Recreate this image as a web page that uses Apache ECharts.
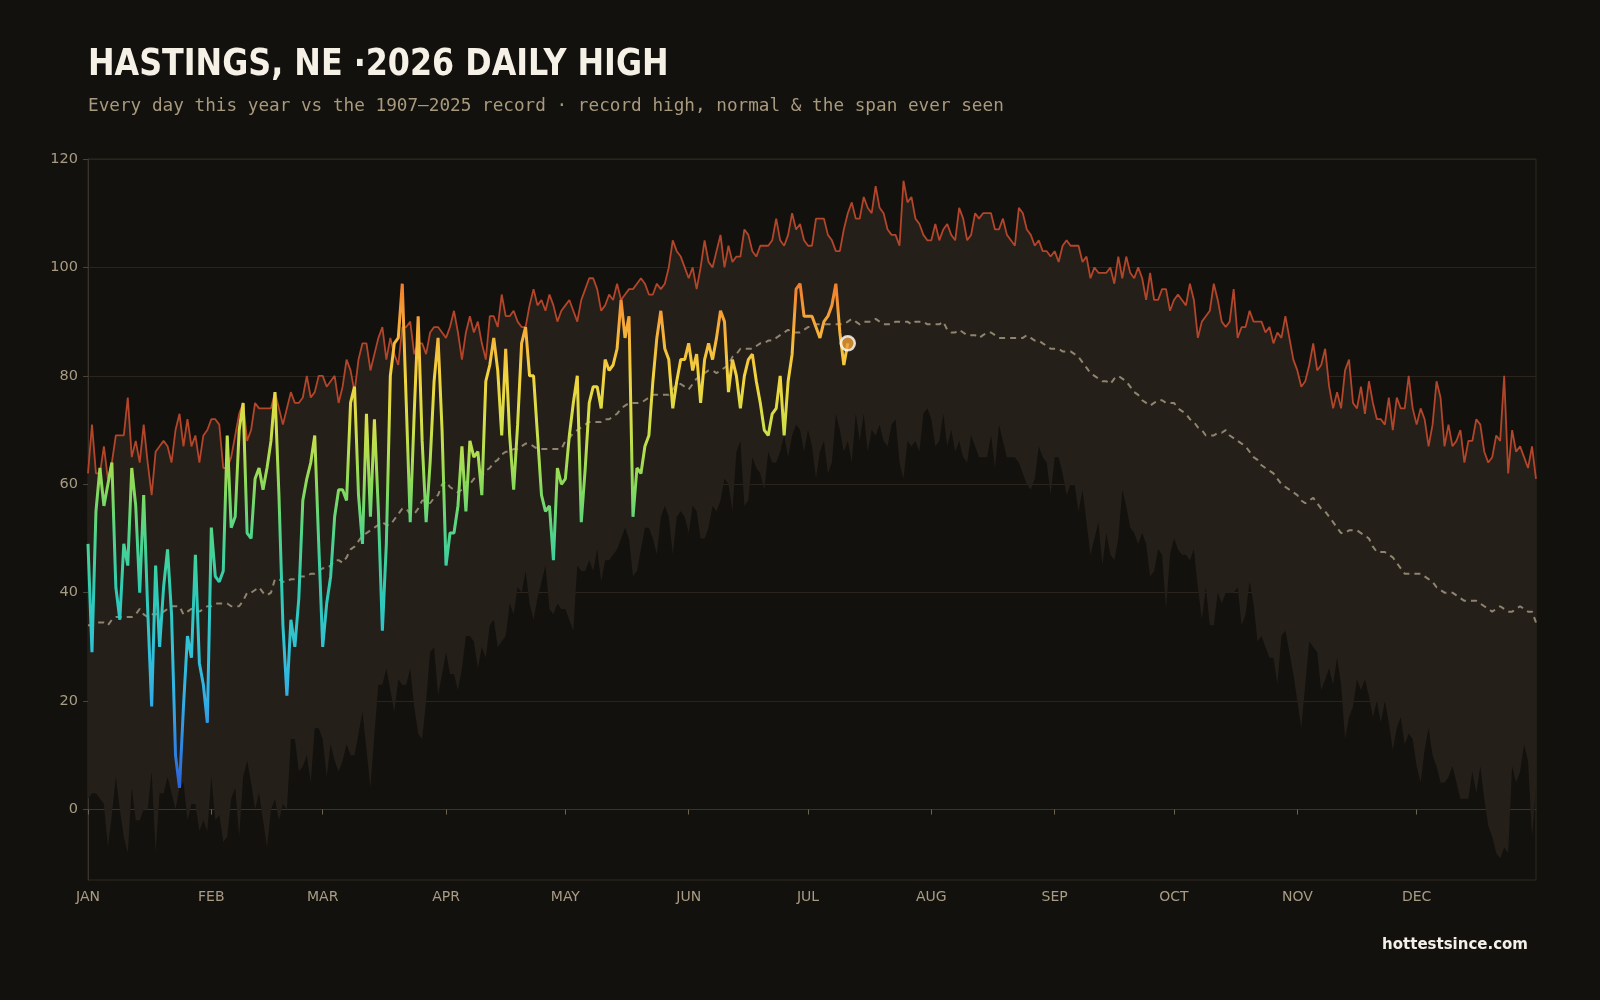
<!DOCTYPE html>
<html>
<head>
<meta charset="utf-8">
<title>Hastings daily high</title>
<script src="https://cdn.jsdelivr.net/npm/echarts@6/dist/echarts.min.js"></script>
<style>
  html, body { margin: 0; padding: 0; background: #13110d; }
  #chart { width: 1600px; height: 1000px; }
</style>
</head>
<body>
<div id="chart"></div>
<script>
// month names / lengths, used to build the 365 day categories
var monthNames = ['JAN', 'FEB', 'MAR', 'APR', 'MAY', 'JUN', 'JUL', 'AUG', 'SEP', 'OCT', 'NOV', 'DEC']
var monthDays = [31, 28, 31, 30, 31, 30, 31, 31, 30, 31, 30, 31]
var yTicks = [0, 20, 40, 60, 80, 100, 120]

// 2026 daily highs so far (Jan 1 -> Jul 11)
var thisYear = [
  49, 29, 55, 63, 56, 60, 64, 41, 35, 49,
  45, 63, 56, 40, 58, 37, 19, 45, 30, 41,
  48, 36, 10, 4, 19, 32, 28, 47, 27, 23,
  16, 52, 43, 42, 44, 69, 52, 54, 70, 75,
  51, 50, 61, 63, 59, 63, 68, 77, 58, 34,
  21, 35, 30, 39, 57, 61, 64, 69, 49, 30,
  38, 43, 54, 59, 59, 57, 75, 78, 58, 49,
  73, 54, 72, 55, 33, 49, 80, 86, 87, 97,
  75, 53, 73, 91, 68, 53, 64, 79, 87, 70,
  45, 51, 51, 56, 67, 55, 68, 65, 66, 58,
  79, 82, 87, 81, 69, 85, 69, 59, 71, 86,
  89, 80, 80, 69, 58, 55, 56, 46, 63, 60,
  61, 69, 75, 80, 53, 63, 75, 78, 78, 74,
  83, 81, 82, 85, 94, 87, 91, 54, 63, 62,
  67, 69, 79, 87, 92, 85, 83, 74, 79, 83,
  83, 86, 81, 84, 75, 83, 86, 83, 87, 92,
  90, 77, 83, 80, 74, 80, 83, 84, 79, 75,
  70, 69, 73, 74, 80, 69, 79, 84, 96, 97,
  91, 91, 91, 89, 87, 90, 91, 93, 97, 88,
  82, 86
]

// record high 1907-2025, one value per day
var recordHigh = [
  62, 71, 62, 62, 67, 61, 64, 69, 69, 69,
  76, 65, 68, 64, 71, 64, 58, 66, 67, 68,
  67, 64, 70, 73, 67, 72, 67, 69, 64, 69,
  70, 72, 72, 71, 63, 63, 65, 69, 73, 75,
  68, 70, 75, 74, 74, 74, 74, 77, 74, 71,
  74, 77, 75, 75, 76, 80, 76, 77, 80, 80,
  78, 79, 80, 75, 78, 83, 81, 77, 83, 86,
  86, 81, 84, 87, 89, 83, 87, 84, 82, 89,
  89, 90, 84, 86, 86, 84, 88, 89, 89, 88,
  87, 89, 92, 88, 83, 88, 91, 88, 90, 86,
  83, 91, 91, 89, 95, 91, 91, 92, 90, 89,
  89, 93, 96, 93, 94, 92, 95, 93, 90, 92,
  93, 94, 92, 90, 94, 96, 98, 98, 96, 92,
  93, 95, 94, 97, 94, 95, 96, 96, 97, 98,
  97, 95, 95, 97, 96, 97, 100, 105, 103, 102,
  100, 98, 100, 96, 100, 105, 101, 100, 103, 106,
  100, 104, 101, 102, 102, 107, 106, 103, 102, 104,
  104, 104, 105, 109, 105, 104, 106, 110, 107, 108,
  105, 104, 104, 109, 109, 109, 106, 105, 103, 103,
  107, 110, 112, 109, 109, 113, 111, 110, 115, 111,
  110, 107, 106, 106, 104, 116, 112, 113, 109, 108,
  106, 105, 105, 108, 105, 107, 108, 106, 105, 111,
  109, 105, 106, 110, 109, 110, 110, 110, 107, 107,
  109, 106, 105, 104, 111, 110, 107, 106, 104, 105,
  103, 103, 102, 103, 101, 104, 105, 104, 104, 104,
  101, 102, 98, 100, 99, 99, 99, 100, 97, 102,
  98, 102, 99, 98, 100, 98, 94, 99, 94, 94,
  96, 96, 92, 94, 95, 94, 93, 97, 94, 87,
  90, 91, 92, 97, 94, 90, 89, 90, 96, 87,
  89, 89, 92, 90, 90, 90, 88, 89, 86, 88,
  87, 91, 87, 83, 81, 78, 79, 82, 86, 81,
  82, 85, 78, 74, 77, 74, 81, 83, 75, 74,
  78, 73, 79, 75, 72, 72, 71, 76, 70, 76,
  74, 74, 80, 74, 71, 74, 72, 67, 71, 79,
  76, 67, 71, 67, 68, 70, 64, 68, 68, 72,
  71, 66, 64, 65, 69, 68, 80, 62, 70, 66,
  67, 65, 63, 67, 61
]

// record low of the daily high, one value per day
var recordLow = [
  2, 3, 3, 2, 1, -7, -1, 6, 0, -5,
  -8, 4, -2, -2, 0, 0, 7, -8, 3, 3,
  6, 3, 0, 4, 5, -2, 1, 1, -4, -2,
  -4, 6, -2, -1, -6, -5, 2, 4, -5, 6,
  9, 5, 0, 3, -2, -7, 0, 2, -2, 1,
  0, 13, 13, 7, 8, 10, 5, 15, 15, 13,
  6, 12, 9, 7, 9, 12, 10, 10, 14, 18,
  11, 4, 14, 23, 23, 26, 22, 18, 24, 23,
  23, 26, 19, 14, 13, 20, 29, 30, 21, 25,
  29, 25, 25, 22, 26, 32, 32, 31, 26, 30,
  28, 34, 35, 30, 31, 32, 38, 36, 41, 40,
  44, 38, 35, 39, 42, 45, 37, 36, 38, 37,
  37, 35, 33, 45, 44, 44, 46, 44, 48, 42,
  46, 46, 47, 48, 50, 52, 50, 43, 44, 48,
  52, 52, 50, 47, 54, 56, 54, 47, 54, 55,
  54, 51, 56, 55, 50, 50, 52, 56, 55, 57,
  61, 60, 55, 66, 68, 56, 57, 65, 63, 62,
  59, 66, 64, 64, 66, 69, 65, 69, 71, 70,
  66, 70, 67, 61, 66, 68, 62, 64, 73, 70,
  66, 68, 64, 73, 68, 73, 66, 70, 69, 71,
  68, 67, 71, 72, 64, 61, 68, 67, 68, 66,
  73, 74, 72, 67, 68, 73, 67, 70, 66, 68,
  65, 64, 69, 67, 65, 65, 65, 69, 63, 71,
  68, 65, 65, 65, 64, 62, 60, 59, 61, 67,
  65, 64, 58, 65, 65, 62, 58, 60, 60, 55,
  59, 53, 47, 50, 53, 45, 51, 47, 46, 50,
  59, 56, 52, 51, 49, 51, 49, 43, 44, 48,
  47, 37, 47, 50, 48, 47, 47, 46, 48, 41,
  35, 41, 34, 34, 40, 38, 40, 40, 40, 41,
  34, 36, 42, 38, 31, 32, 30, 28, 28, 23,
  32, 33, 29, 25, 20, 15, 23, 31, 30, 29,
  22, 24, 26, 23, 28, 23, 13, 17, 19, 24,
  22, 24, 21, 17, 20, 16, 20, 16, 11, 15,
  17, 12, 14, 13, 8, 5, 11, 15, 10, 8,
  5, 5, 6, 8, 5, 2, 2, 2, 7, 3,
  8, 2, -3, -5, -8, -9, -7, -8, 8, 5,
  7, 12, 9, -5, 4
]

// normal daily high
var normal = [
  34, 34, 34.5, 34.5, 34.5, 34, 35, 35.5, 35.5, 35.5,
  35.5, 35.5, 36, 37, 36, 35.5, 36, 36, 36, 36.5,
  37, 37.5, 37.5, 37.5, 36, 36.5, 37, 37, 36.5, 37,
  37.5, 37.5, 38, 38, 38, 38, 37.5, 37.5, 37.5, 38.5,
  40, 40, 40.5, 41, 40, 39.5, 40, 42.5, 42.5, 42,
  42, 42.5, 42.5, 43, 43, 43, 43.5, 43.5, 44, 44.5,
  44.5, 45, 46, 46, 45.5, 46.5, 48, 48.5, 49.5, 50.5,
  51, 51.5, 52, 52.5, 53, 52.5, 52.5, 53.5, 54.5, 55.5,
  55.5, 54.5, 54.5, 55.5, 57, 57, 56.5, 57.5, 58, 60,
  60.5, 59.5, 59, 58.5, 59, 60.5, 60, 61, 61.5, 61.5,
  62.5, 63, 64, 64.5, 65.5, 66, 66, 66.5, 66.5, 67,
  67.5, 67.5, 67, 66.5, 66.5, 66.5, 66.5, 66.5, 66.5, 66.5,
  68, 68.5, 69.5, 70, 70.5, 71, 71.5, 71.5, 71.5, 71.5,
  72, 72, 72.5, 73, 74, 74.5, 75, 75, 75, 75,
  75.5, 76, 76.5, 76.5, 76.5, 76.5, 76.5, 77.5, 78.5, 78.5,
  78, 77.5, 78.5, 79.5, 80, 80.5, 81, 81, 80.5, 81,
  81.5, 82, 83.5, 84, 85, 85, 85, 85, 85.5, 86,
  86, 86.5, 86.5, 87, 87.5, 88, 88.5, 88, 88, 88,
  88.5, 89, 89, 89.5, 89.5, 89.5, 89.5, 89.5, 89.5, 89.5,
  89.5, 90, 90.5, 90, 89.5, 90, 90, 90, 90.5, 90,
  89.5, 89.5, 89.5, 90, 90, 90, 90, 89.5, 90, 90,
  90, 89.5, 89.5, 89.5, 89.5, 90, 88.5, 88, 88, 88.5,
  88, 87.5, 87.5, 87.5, 87, 87.5, 88, 88, 87.5, 87,
  87, 87, 87, 87, 87, 87, 87.5, 87, 86.5, 86.5,
  86, 85.5, 85, 85, 85, 84.5, 84.5, 84.5, 84, 83.5,
  82.5, 81.5, 80.5, 80, 79.5, 79, 79, 78.5, 79.5, 80,
  79.5, 79, 78, 77, 76.5, 75.5, 75, 74.5, 75, 75.5,
  75.5, 75, 75, 75, 74, 73.5, 73, 72, 71.5, 70.5,
  70, 69, 69, 69, 69.5, 69.5, 70, 69, 68.5, 68,
  67.5, 67, 66, 65, 64.5, 63.5, 63, 62.5, 62, 61,
  60, 59.5, 59, 58.5, 58, 57, 56.5, 57, 57.5, 56.5,
  55.5, 55, 54, 53, 52, 51, 51, 51.5, 51.5, 51.5,
  51, 50.5, 50, 48.5, 47.5, 47.5, 47.5, 47, 46.5, 45.5,
  44.5, 43.5, 43.5, 43.5, 43.5, 43.5, 43, 42.5, 42, 41,
  40.5, 40, 40, 40, 39.5, 39, 38.5, 38.5, 38.5, 38.5,
  38, 37.5, 37, 36.5, 37, 37.5, 37, 36.5, 36.5, 37,
  37.5, 37, 36.5, 36.5, 34.5
]

// day categories: 'JAN-01' ... 'DEC-31'
var days = []
for (var m = 0; m < 12; m++) {
  for (var d = 1; d <= monthDays[m]; d++) {
    days.push(monthNames[m] + '-' + (d < 10 ? '0' + d : d))
  }
}

// band = record high minus record low, stacked on the low
var span = recordHigh.map(function(v, i) {
  return v - recordLow[i]
})
var lastIdx = thisYear.length - 1

function isMonthStart(index, value) {
  return value.slice(4) === '01'
}

var chart = echarts.init(document.getElementById('chart'))

var option = {
  backgroundColor: '#13110d',
  animation: false,
  // big title drawn as graphic so it can be squeezed a little (condensed look)
  graphic: [
    {
      type: 'text',
      x: 88,
      y: 47,
      scaleX: 0.859,
      style: {
        text: 'HASTINGS, NE \u00b72026 DAILY HIGH',
        fill: '#f6f1e7',
        font: 'bold 37px "DejaVu Sans"',
        textVerticalAlign: 'top'
      }
    }
  ],
  title: [
    {
      text: 'Every day this year vs the 1907\u20132025 record \u00b7 record high, normal & the span ever seen',
      left: 88,
      top: 97,
      padding: 0,
      textStyle: {
        color: '#a89a7e',
        fontFamily: 'DejaVu Sans Mono',
        fontWeight: 'normal',
        fontSize: 17.7
      }
    },
    {
      text: 'hottestsince.com',
      right: 72,
      top: 938,
      padding: 0,
      textStyle: {
        color: '#f4f0e8',
        fontFamily: 'DejaVu Sans',
        fontWeight: 'bold',
        fontSize: 15
      }
    }
  ],
  grid: {
    left: 88,
    right: 64,
    top: 159,
    bottom: 120,
    show: true,
    borderColor: '#2e2821',
    borderWidth: 1,
    backgroundColor: 'transparent'
  },
  xAxis: {
    type: 'category',
    data: days,
    boundaryGap: false,
    axisLine: { show: true, lineStyle: { color: '#3a332a' } },
    axisTick: {
      show: true,
      interval: isMonthStart,
      length: 5,
      lineStyle: { color: '#6e6452' }
    },
    axisLabel: {
      interval: isMonthStart,
      formatter: function(v) {
        return v.slice(0, 3)
      },
      color: '#a89c84',
      fontFamily: 'DejaVu Sans',
      fontSize: 14,
      margin: 10
    },
    splitLine: { show: false }
  },
  yAxis: {
    type: 'value',
    min: -13,
    max: 120,
    splitNumber: 6,
    axisLine: { show: true, lineStyle: { color: '#3a332a' } },
    axisTick: {
      show: true,
      length: 5,
      customValues: yTicks,
      lineStyle: { color: '#4a4236' }
    },
    axisLabel: {
      color: '#a89c84',
      fontFamily: 'DejaVu Sans',
      fontSize: 14.5,
      margin: 10,
      customValues: yTicks
    },
    splitLine: { lineStyle: { color: '#2a241d', width: 1 } }
  },
  visualMap: {
    type: 'continuous',
    show: false,
    seriesIndex: 4,
    dimension: 1,
    min: 0,
    max: 100,
    inRange: {
      color: ['#2a50d4', '#2e7ee0', '#33aee6', '#31c2d6', '#2fcbb6', '#4cd48e',
        '#8bda5a', '#cde04a', '#f3d43e', '#f5a83a', '#f06a28']
    }
  },
  series: [
    {
      name: 'low',
      type: 'line',
      data: recordLow,
      stack: 'band',
      stackStrategy: 'all',
      symbol: 'none',
      silent: true,
      lineStyle: { opacity: 0 },
      z: 1
    },
    {
      name: 'span',
      type: 'line',
      data: span,
      stack: 'band',
      stackStrategy: 'all',
      symbol: 'none',
      silent: true,
      lineStyle: { opacity: 0 },
      areaStyle: { color: '#241f18', opacity: 1 },
      z: 1
    },
    {
      name: 'record high',
      type: 'line',
      data: recordHigh,
      symbol: 'none',
      lineStyle: { color: '#b3452a', width: 1.8 },
      z: 3
    },
    {
      name: 'normal',
      type: 'line',
      data: normal,
      symbol: 'none',
      lineStyle: { color: '#8f846f', width: 2, type: [6, 5] },
      z: 3
    },
    {
      name: '2026',
      type: 'line',
      data: thisYear,
      symbol: 'none',
      lineStyle: { width: 3 },
      z: 5
    },
    {
      name: 'today',
      type: 'scatter',
      data: [[lastIdx, thisYear[lastIdx]]],
      symbolSize: 14,
      itemStyle: { color: '#f0a03a', borderColor: '#ffffff', borderWidth: 2.5 },
      z: 6
    }
  ]
}

chart.setOption(option)
</script>
</body>
</html>
